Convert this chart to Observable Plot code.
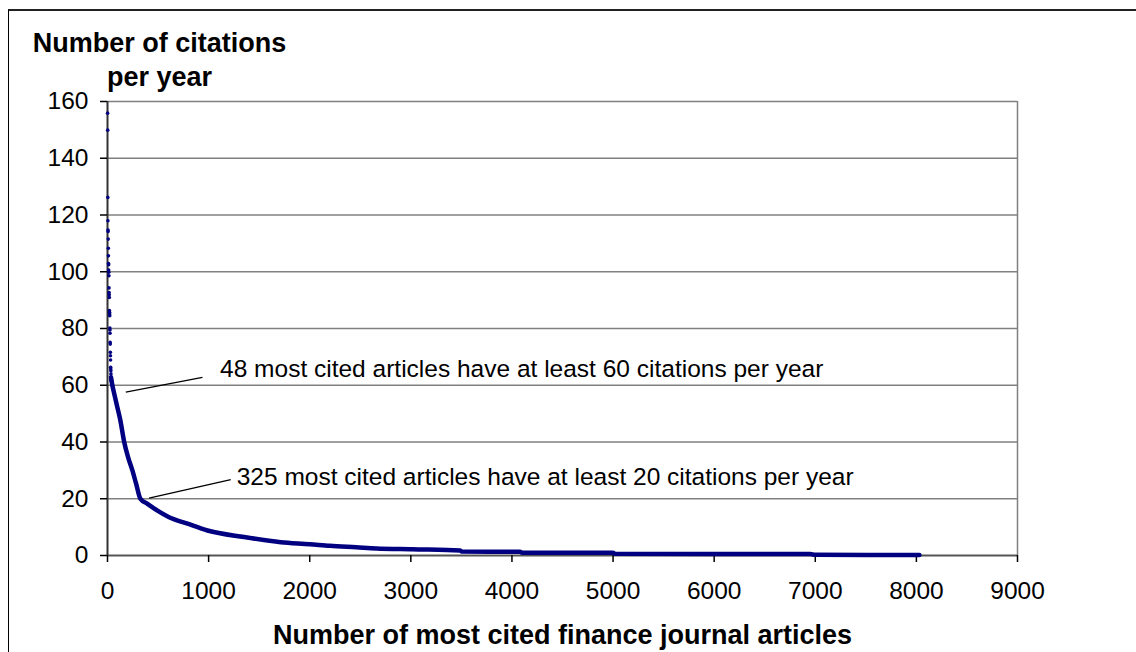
<!DOCTYPE html>
<html><head><meta charset="utf-8">
<script src="https://cdn.jsdelivr.net/npm/d3@7"></script>
<script src="https://cdn.jsdelivr.net/npm/@observablehq/plot@0.6"></script>
<style>
body{margin:0;background:#fff;}
#wrap{position:relative;width:1136px;height:652px;overflow:hidden;background:#fff;}
#frame{position:absolute;left:8px;top:9px;width:1300px;height:800px;border-left:1.5px solid #000;border-top:2px solid #222;}
#chart{position:absolute;left:0;top:0;}
</style></head><body>
<div id="wrap"><div id="frame"></div><div id="chart"></div></div>
<script>
// Citations per year of the most cited articles (ranks 1..48), read individually
const topValues = [155.9, 149.9, 126.2, 118, 114.7, 114.2, 111.5, 108.3, 105.6, 102.9, 102.5, 100.6,
  99.8, 98.6, 94.3, 92.7, 91.9, 90.9, 86.3, 85.7, 85.1, 84.5, 80.2, 79.5, 78.3, 75.1, 74.5, 71.6,
  70.4, 68.9, 66.3, 65.7, 65.1, 64, 62.8, 62.3, 62, 61.8, 61.5, 61.3, 61, 60.8, 60.6, 60.4, 60.3,
  60.2, 60.1, 60.0];
// Tail of the curve, read at sampled ranks
const tailRanks  = [35, 48, 70, 99, 125, 165, 204, 247, 283, 325, 395, 494, 609, 791, 989, 1351, 1714,
  2000, 2200, 2460, 2660, 3010, 3490, 3500, 4080, 4100, 5000, 5020, 6950, 7000, 8030];
const tailValues = [62.8, 60, 56.5, 52, 48, 40, 34.6, 29.9, 25.3, 20, 18.2, 15.8, 13.5, 11.2, 8.8, 6.5, 4.7,
  4.0, 3.4, 2.9, 2.5, 2.2, 1.8, 1.4, 1.3, 1.0, 0.95, 0.6, 0.5, 0.25, 0.2];
const xTicks = [0, 1000, 2000, 3000, 4000, 5000, 6000, 7000, 8000, 9000];
const yTicks = [0, 20, 40, 60, 80, 100, 120, 140, 160];
const noteTexts = ["48 most cited articles have at least 60 citations per year",
                   "325 most cited articles have at least 20 citations per year"];
const noteRanks = [1113, 1278];
const noteValues = [62.8, 24.9];
const leaderFrom = [[181, 57.6], [411, 20.2]];
const leaderTo = [[939, 62.8], [1219, 26.7]];
const xTitle = "Number of most cited finance journal articles";
const yTitle = "Number of citations\nper year";

const topData = topValues.map((v, i) => ({rank: i + 1, value: v}));
const tailData = tailRanks.map((r, i) => ({rank: r, value: tailValues[i]}));
const notes = noteTexts.map((t, i) => ({text: t, rank: noteRanks[i], value: noteValues[i]}));
const leaders = leaderFrom.map((f, i) => ({x1: f[0], y1: f[1], x2: leaderTo[i][0], y2: leaderTo[i][1]}));

const font = "'Liberation Sans', Arial, sans-serif";
const chart = Plot.plot({
  width: 1136, height: 652,
  marginLeft: 107, marginRight: 119, marginTop: 101, marginBottom: 97,
  style: {fontFamily: font, fontSize: "24px", color: "#000", background: "transparent", overflow: "visible"},
  x: {domain: [0, 9000], label: null},
  y: {domain: [0, 160], label: null},
  marks: [
    Plot.gridY(yTicks.filter(d => d > 0), {stroke: "#808080", strokeOpacity: 1, strokeWidth: 1.5}),
    Plot.ruleX([9000], {stroke: "#808080", strokeWidth: 1.5}),
    Plot.ruleY([0], {stroke: "#555", strokeWidth: 2}),
    Plot.ruleX([0], {stroke: "#333", strokeWidth: 2}),
    Plot.axisX(xTicks, {tickFormat: d => String(d), tickSize: 7, tickPadding: 19, strokeWidth: 1.5, label: null, fontSize: 24.5}),
    Plot.axisY(yTicks, {tickSize: 7, tickPadding: 12, strokeWidth: 1.5, label: null, fontSize: 24.5}),
    Plot.line(tailData, {x: "rank", y: "value", curve: "monotone-x", stroke: "#000080", strokeWidth: 4.5, strokeLinejoin: "round", strokeLinecap: "round"}),
    Plot.dot(topData, {x: "rank", y: "value", r: 1.8, fill: "#000080", stroke: null}),
    Plot.link(leaders, {x1: "x1", y1: "y1", x2: "x2", y2: "y2", stroke: "#000", strokeWidth: 1.3}),
    Plot.text(notes, {x: "rank", y: "value", text: "text", textAnchor: "start", lineAnchor: "bottom", fontSize: 24.5, fill: "#000"}),
    Plot.text([yTitle], {frameAnchor: "top-left", dx: 52, dy: -16, text: d => d, textAnchor: "middle", lineAnchor: "bottom", lineHeight: 1.25, fontSize: 27, fontWeight: "bold", fill: "#000"}),
    Plot.text([xTitle], {frameAnchor: "bottom", dy: 88, text: d => d, textAnchor: "middle", lineAnchor: "bottom", fontSize: 27, fontWeight: "bold", fill: "#000"})
  ]
});
document.getElementById("chart").appendChild(chart);
</script>
</body></html>
